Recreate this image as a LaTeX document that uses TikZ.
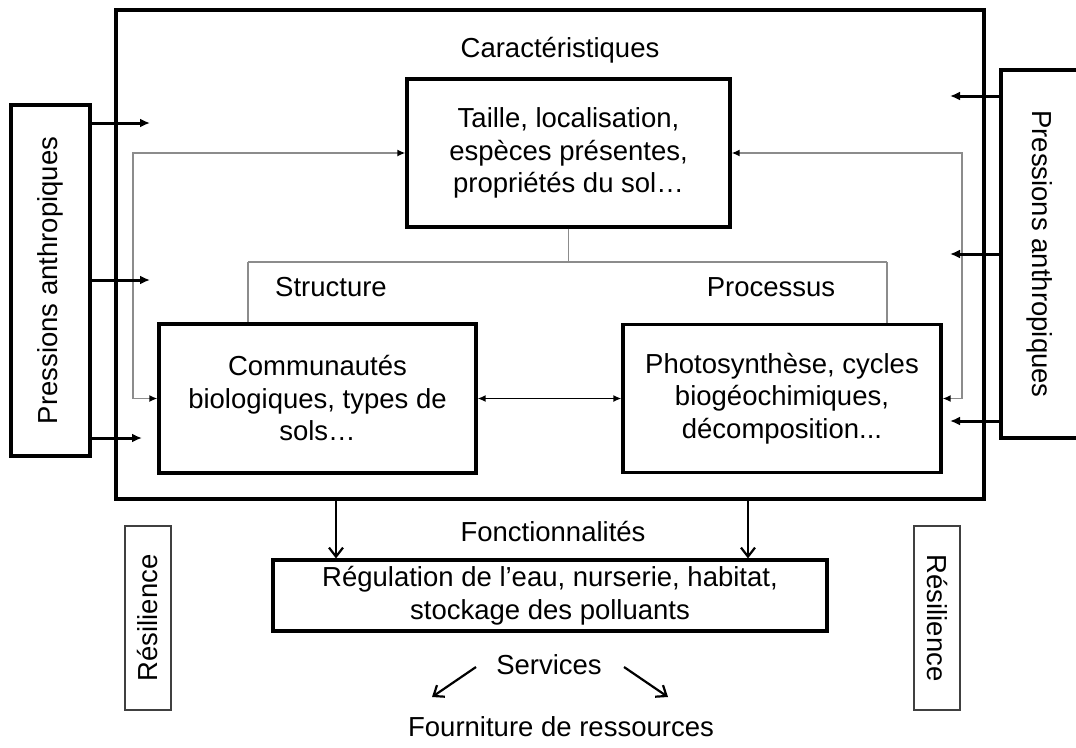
\documentclass[tikz,border=0pt]{standalone}
\usepackage{fontspec}
\setmainfont{Liberation Sans}
\usetikzlibrary{arrows.meta}
\begin{document}
\begin{tikzpicture}[x=1pt,y=-1pt,
  every node/.style={font=\fontsize{27.5}{32.5}\selectfont, inner sep=0pt, align=center},
  box/.style={draw, line width=3.2pt},
  resbox/.style={draw=black!75, line width=1.6pt, minimum width=46, minimum height=184},
  greyline/.style={draw=black!45, line width=1.8pt},
  greyarrow/.style={greyline, {Latex[black,length=8pt,width=7pt]}-{Latex[black,length=8pt,width=7pt]}},
  pressarrow/.style={line width=3pt, -{Latex[length=10pt,width=9pt]}},
  thinarrow/.style={line width=1.8pt, {Latex[length=8pt,width=7pt]}-{Latex[length=8pt,width=7pt]}},
  downarrow/.style={line width=2.2pt, -{Straight Barb[length=9pt,width=14pt]}},
  servarrow/.style={line width=2.2pt, -{Straight Barb[length=9pt,width=14pt]}}
]
\useasboundingbox (0,0) rectangle (1076,747);
\fill[white] (0,0) rectangle (1076,747);

% outer frame
\node[box, line width=3.4pt, minimum width=868, minimum height=489] (outer) at (550,254.5) {};

% titles
\node (carac) at (560,50) {Caractéristiques};
\node (struct) at (331,287) {Structure};
\node (proc) at (771,287) {Processus};
\node (fonct) at (553,532) {Fonctionnalités};
\node (serv) at (549,665) {Services};
\node (fourn) at (561,727) {Fourniture de ressources};

% main boxes
\node[box, minimum width=323, minimum height=148] (tbox) at (568.5,153)
  {Taille, localisation,\\espèces présentes,\\propriétés du sol…};
\node[box, minimum width=317, minimum height=149] (lbox) at (317.5,398.5)
  {Communautés\\biologiques, types de\\sols…};
\node[box, minimum width=318, minimum height=148] (rbox) at (782,398.5)
  {Photosynthèse, cycles\\biogéochimiques,\\décomposition...};
\node[box, minimum width=554, minimum height=71] (reg) at (550,595.5)
  {Régulation de l'eau, nurserie, habitat,\\stockage des polluants};

% pressure boxes
\node[box, minimum width=79, minimum height=351] (lp) at (50.5,280.5)
  {\rotatebox{90}{Pressions anthropiques}};
\node[box, minimum width=78, minimum height=368] (rp) at (1040,254)
  {\rotatebox{-90}{Pressions anthropiques}};

% resilience boxes
\node[resbox] (lres) at (148,618) {\rotatebox{90}{Résilience}};
\node[resbox] (rres) at (937,618) {\rotatebox{-90}{Résilience}};

% coordinates
\coordinate (sl) at (248,262);
\coordinate (sr) at (887,262);
\coordinate (fl) at (133,0);
\coordinate (fr) at (962,0);
\coordinate (la1) at (150,123);
\coordinate (la2) at (150,280);
\coordinate (la3) at (142,438);
\coordinate (ra1) at (950,96);
\coordinate (ra2) at (950,254);
\coordinate (ra3) at (950,421);
\coordinate (ba1) at (336,0);
\coordinate (ba2) at (748,0);
\coordinate (s1a) at (476,667);
\coordinate (s1b) at (432,697);
\coordinate (s2a) at (624,667);
\coordinate (s2b) at (668,697);

% structure / process tree
\draw[greyline] (tbox.south) -- (tbox.south |- sl);
\draw[greyline] (sl) -- (sr);
\draw[greyline] (sl) -- (sl |- lbox.north);
\draw[greyline] (sr) -- (sr |- rbox.north);

% feedback loops
\draw[greyarrow] (tbox.west) -- (tbox.west -| fl) -- (fl |- lbox.west) -- (lbox.west);
\draw[greyarrow] (tbox.east) -- (tbox.east -| fr) -- (fr |- rbox.east) -- (rbox.east);

% double arrow between boxes
\draw[thinarrow] (lbox.east) -- (rbox.west);

% pressure arrows
\draw[pressarrow] (lp.east |- la1) -- (la1);
\draw[pressarrow] (lp.east |- la2) -- (la2);
\draw[pressarrow] (lp.east |- la3) -- (la3);
\draw[pressarrow] (rp.west |- ra1) -- (ra1);
\draw[pressarrow] (rp.west |- ra2) -- (ra2);
\draw[pressarrow] (rp.west |- ra3) -- (ra3);

% functions arrows
\draw[downarrow] (outer.south -| ba1) -- (reg.north -| ba1);
\draw[downarrow] (outer.south -| ba2) -- (reg.north -| ba2);

% services arrows
\draw[servarrow] (s1a) -- (s1b);
\draw[servarrow] (s2a) -- (s2b);
\end{tikzpicture}
\end{document}
